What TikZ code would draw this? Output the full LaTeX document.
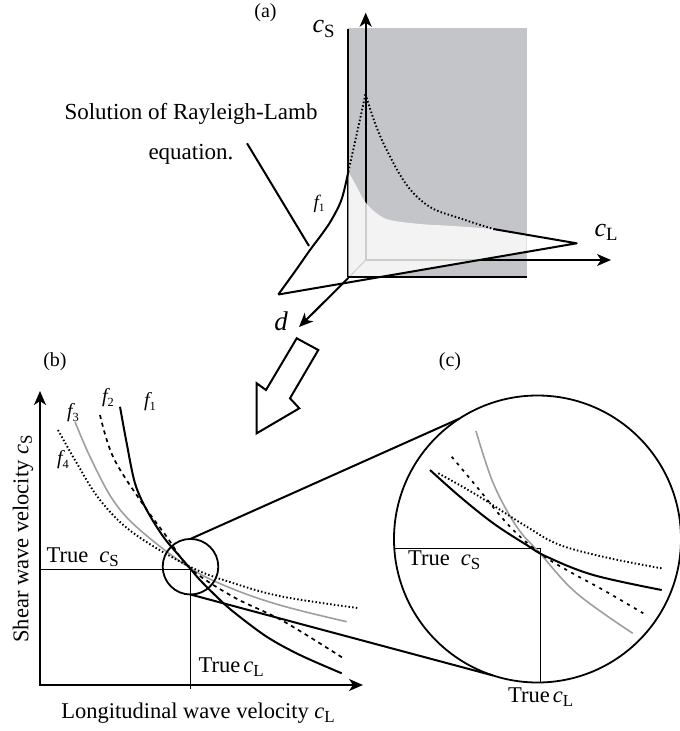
\documentclass[tikz,border=0pt]{standalone}
\usepackage{fontspec}
\setmainfont{Liberation Serif}
\usetikzlibrary{arrows.meta}
\newcommand{\lsub}[2][0.72]{\raisebox{-0.35ex}{\scalebox{#1}{#2}}}
\newcommand{\fsz}[1]{\fontsize{#1}{#1}\selectfont}
\definecolor{planegray}{RGB}{196,197,201}
\begin{document}
\begin{tikzpicture}[x=1pt,y=-1pt,
  thickline/.style={line width=2pt,line join=round},
  thinline/.style={line width=1pt},
  axisarrow/.style={line width=2pt,-{Stealth[length=14pt,width=12pt,inset=4pt]}},
  dotline/.style={line width=1.9pt,dash pattern=on 1.5pt off 2.2pt},
  dashline/.style={line width=1.7pt,dash pattern=on 4pt off 4pt},
  grayline/.style={line width=1.6pt,black!38},
  lab/.style={font=\fsz{20},inner sep=0pt},
  txt/.style={font=\fsz{22.5},inner sep=0pt},
  ring/.style={draw,circle,line width=1.8pt,inner sep=0pt,outer sep=0pt}]
\useasboundingbox (0,0) rectangle (680,731);

% ---------------- (a) ----------------
\node[lab] (la) at (265.5,12.5) {(a)};
\fill[planegray] (348.3,28.3) rectangle (526.7,277.3);
\draw[thickline] (348.3,29.3) -- (348.3,277.3);
\draw[thinline] (365.7,260) -- (348.3,278);
\coordinate (o3) at (365.7,260);
\coordinate (ytip) at (365.7,12.7);
\coordinate (xtip) at (611,260);
\draw[axisarrow] (o3) -- (ytip);
\draw[axisarrow] (o3) -- (xtip);
% light region
\fill[white,fill opacity=0.8] plot[smooth,tension=0.6] coordinates {(348.3,171.7) (356.7,186.7) (365,201.7) (376.7,213.3) (390,220) (420,224) (453.3,226) (493.3,229)} -- (526.7,234.7) -- (526.7,252) -- (380,277.3) -- (348.3,277.3) -- cycle;
\draw[thickline] (348.3,277.3) -- (526.7,277.3);
% curves in 3D
\coordinate (apexL) at (278.3,294.5);
\coordinate (apexR) at (576.7,243.3);
\coordinate (junc) at (348.3,171.7);
\coordinate (peak) at (365.5,94);
\coordinate (dend) at (493.3,229);
\draw[thickline] plot[smooth,tension=0.6] coordinates {(apexL) (296,270) (310,250) (322,234) (332,219) (341.7,199) (junc)};
\draw[dotline] plot[smooth,tension=0.5] coordinates {(junc) (357,133) (peak)};
\draw[dotline] plot[smooth,tension=0.6] coordinates {(peak) (375,123) (386.7,150) (406.7,185) (430,207) (460,218.3) (dend)};
\draw[thickline] (dend) -- (apexR) -- (apexL);
% d axis
\coordinate (dstart) at (348.3,278);
\coordinate (dtip) at (299,327);
\draw[axisarrow] (dstart) -- (dtip);
% labels (a)
\node[inner sep=0pt,font=\fsz{26}] (cs) at (323.5,29) {\itshape c\lsub{\upshape S}};
\node[inner sep=0pt,font=\fsz{26}] (cl) at (606,232) {\itshape c\lsub{\upshape L}};
\node[inner sep=0pt,font=\fsz{27}] (dl) at (281,321) {\itshape d};
\node[inner sep=0pt,font=\fsz{19}] (fa) at (319,204) {\itshape f\lsub[0.6]{\upshape 1}};
\node[inner sep=0pt,align=center,font={\fontsize{23}{40}\selectfont}] (sol) at (191,134) {Solution of Rayleigh-Lamb\\equation.};
\coordinate (ptrA) at (247,143.3);
\coordinate (ptrB) at (309,246);
\draw[thickline] (ptrA) -- (ptrB);

% hollow arrow
\draw[line width=2pt,line join=miter,fill=white] (296.7,338.3) -- (318.3,350) -- (290,398.3) -- (299.3,408.3) -- (256.7,433.3) -- (256.7,383.3) -- (266,390) -- cycle;

% ---------------- (b) ----------------
\node[lab] (lb) at (55,362) {(b)};
\node[lab] (lc) at (450,362) {(c)};
\coordinate (ob) at (40,685);
\coordinate (byt) at (40,391);
\coordinate (bxt) at (363,685);
\draw[line width=2pt,{Stealth[length=14pt,width=12pt,inset=4pt]}-{Stealth[length=14pt,width=12pt,inset=4pt]}] (byt) -- (ob) -- (bxt);
\draw[thinline] (40,569.3) -- (190.7,569.3) -- (190.7,689);

\draw[grayline] plot[smooth,tension=0.6] coordinates {(75,421.7) (90,456.7) (113,500) (140,530) (190,568) (233,589) (283,606) (346.7,621.7)};
\draw[dotline] plot[smooth,tension=0.6] coordinates {(58,430) (76.7,463) (100,500) (133.3,533) (190,566.7) (233,583) (283,596.7) (358,608)};
\draw[dashline] plot[smooth,tension=0.6] coordinates {(100,415) (113,456.7) (140,500) (166.7,536.7) (190,568) (233,596.7) (283,621) (343,658)};
\draw[thickline] plot[smooth,tension=0.55] coordinates {(120,406.7) (126.7,443.3) (135,483.3) (146.7,510) (163.3,536.7) (180,556.7) (190,568.3) (200,580) (216.7,596.7) (233.3,611.7) (266.7,636.7) (300,655) (341.7,673.3)};

\node[inner sep=0pt,font=\fsz{20}] (f1) at (150,402) {\itshape f\lsub[0.62]{\upshape 1}};
\node[inner sep=0pt,font=\fsz{20}] (f2) at (108,398) {\itshape f\lsub[0.62]{\upshape 2}};
\node[inner sep=0pt,font=\fsz{20}] (f3) at (73,413) {\itshape f\lsub[0.62]{\upshape 3}};
\node[inner sep=0pt,font=\fsz{20}] (f4) at (63,460) {\itshape f\lsub[0.62]{\upshape 4}};

\node[txt,anchor=west] (tcsb) at (46.5,557) {True\hspace{11pt}{\itshape c}\lsub[0.75]{S}};
\node[txt,anchor=west] (tclb) at (198.5,667) {True\hspace{3pt}{\itshape c}\lsub[0.75]{L}};
\node[txt,rotate=90] (ylab) at (23,539) {Shear wave velocity {\itshape c}\lsub[0.75]{S}};
\node[txt] (xlab) at (198,713) {Longitudinal wave velocity {\itshape c}\lsub[0.75]{L}};

% circles and tangent lines
\node[ring,minimum size=55.6pt] (small) at (190.5,566.7) {};
\node[ring,minimum size=287pt] (big) at (537.5,539) {};
\draw[thickline] (small.north) -- (big.123.9);
\draw[thickline] (small.south) -- (big.252);

% ---------------- (c) ----------------
\draw[thinline] (394.5,548) -- (540,548) -- (540,682.5);
\draw[grayline] plot[smooth,tension=0.6] coordinates {(476,431) (493.3,483.3) (516.7,526.7) (540,553.3) (576.7,593.3) (632.7,633.3)};
\draw[dashline,dash pattern=on 3pt off 5pt] plot[smooth,tension=0.6] coordinates {(451.7,456.7) (476.7,486.7) (510,526.7) (540,553.3) (566.7,570) (603.3,590) (643.3,613.3)};
\draw[dotline] plot[smooth,tension=0.6] coordinates {(438.3,473.3) (476.7,495) (526.7,526.7) (560,545) (610,558.3) (661.7,568.3)};
\draw[thickline] plot[smooth,tension=0.6] coordinates {(430,470) (460,496.7) (493.3,523.3) (526.7,545) (546.7,556.7) (593.3,575) (661.7,590)};
\node[txt,anchor=west] (tcsc) at (408,560) {True\hspace{11pt}{\itshape c}\lsub[0.75]{S}};
\node[txt,anchor=west] (tclc) at (508,697) {True\hspace{3pt}{\itshape c}\lsub[0.75]{L}};
\end{tikzpicture}
\end{document}
